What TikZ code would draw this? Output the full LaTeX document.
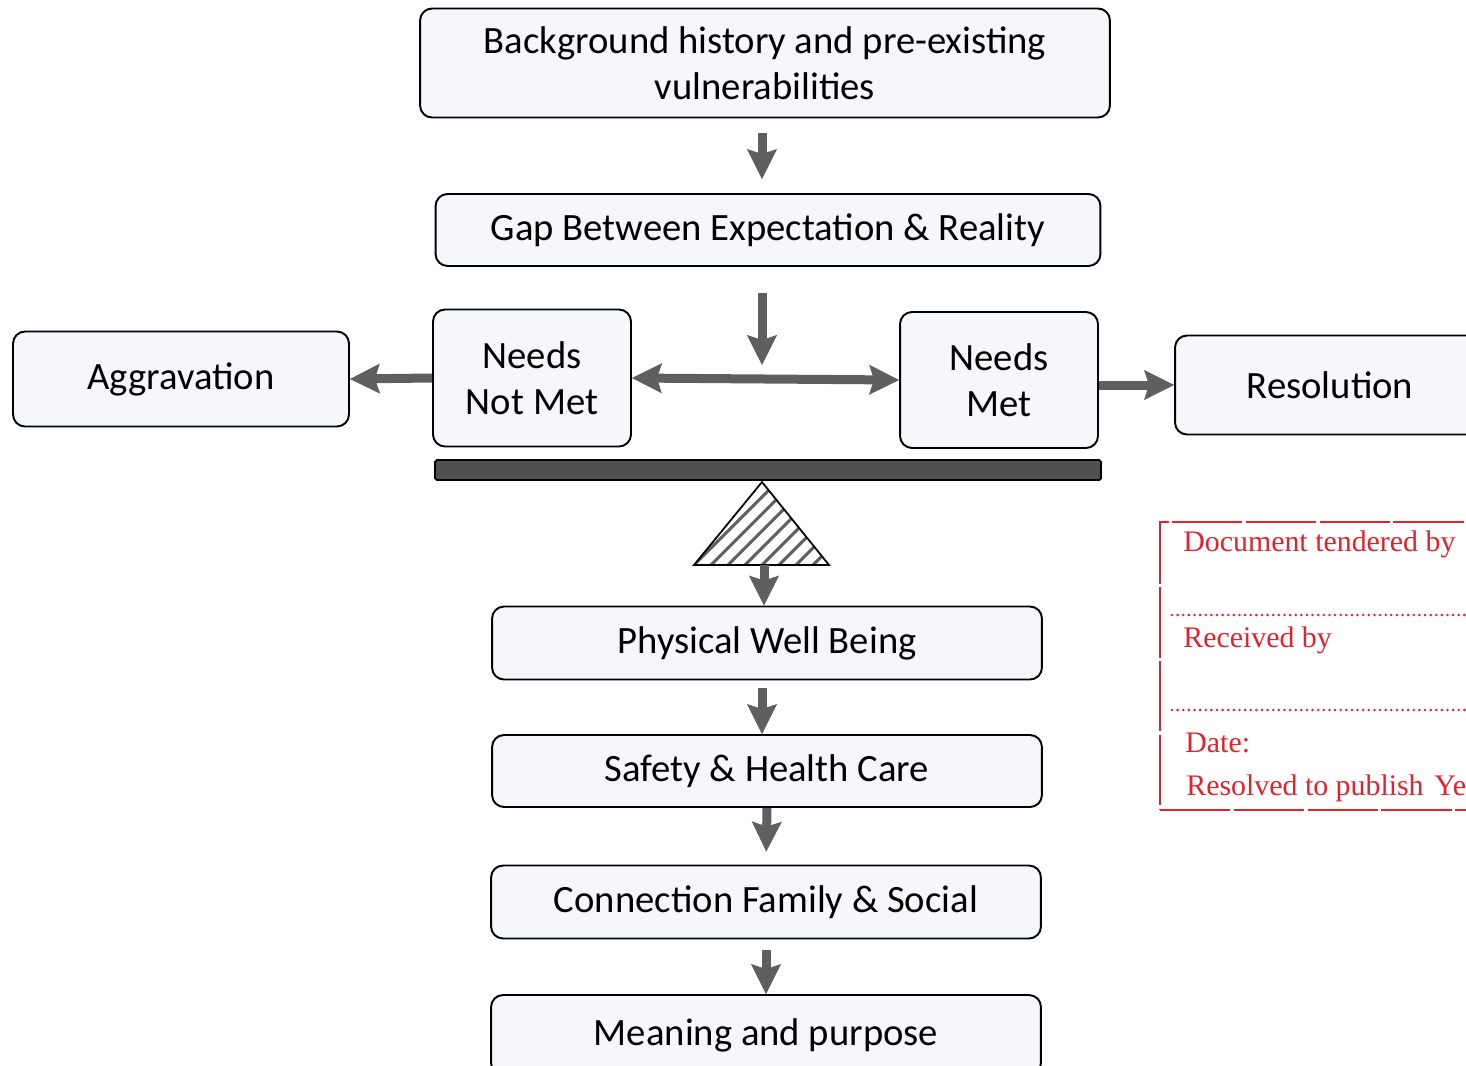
\documentclass[tikz,border=0pt]{standalone}
\usepackage{fontspec}
\setmainfont{Carlito}
\newfontfamily\stampfont{Liberation Serif}
\usetikzlibrary{arrows.meta}
\definecolor{boxfill}{RGB}{246,247,251}
\definecolor{arrowgray}{RGB}{95,95,95}
\definecolor{beamgray}{RGB}{80,80,80}
\definecolor{stampred}{RGB}{225,35,45}

\begin{document}
\begin{tikzpicture}[x=0.02cm,y=-0.02cm,
	flowtip/.tip={Stealth[length=0.6cm,width=0.6cm,inset=0.1cm,line width=0.4pt]},
	box/.style={draw,line width=1.1pt,rounded corners=0.24cm,fill=boxfill,
		align=center,inner sep=0pt,font=\fontsize{22}{26}\selectfont},
	flow/.style={draw=arrowgray,line width=0.18cm,-flowtip},
	stamptext/.style={anchor=base west,inner sep=0pt,text=stampred,
		font=\stampfont\fontsize{17}{20}\selectfont}]
	\useasboundingbox (0,0) rectangle (1466,1065);
	\fill[white] (0,0) rectangle (1466,1065);

	% top of the chain
	\node[box,minimum width=13.8cm,minimum height=2.18cm] (bg) at (765,63)
		{Background history and pre-existing\\vulnerabilities};
	\node[box,minimum width=13.3cm,minimum height=1.44cm] (gap) at (768,230)
		{Gap Between Expectation \& Reality};
	\coordinate (split) at (762,379);

	% the balance
	\node[box,minimum width=3.96cm,minimum height=2.74cm] (notmet) at (532,378) {Needs\\Not Met};
	\node[box,minimum width=3.96cm,minimum height=2.72cm] (met) at (999,380) {Needs\\Met};
	\node[box,minimum width=6.72cm,minimum height=1.9cm] (aggr) at (181,379) {Aggravation};
	\node[box,minimum width=6.2cm,minimum height=1.98cm] (resol) at (1330,385) {Resolution};
	\draw[fill=beamgray,line width=1pt,rounded corners=1pt] (435,460) rectangle (1101,480);
	\begin{scope}
		\clip (762,482) -- (829,565) -- (694,565) -- cycle;
		\foreach \i in {560,577,...,850}
			\draw[arrowgray,line width=0.06cm] (\i,580) -- ++(140,-140);
	\end{scope}
	\draw[line width=1pt] (762,482) -- (829,565) -- (694,565) -- cycle;
	\coordinate (pivot) at (764,565);

	% bottom of the chain
	\node[box,minimum width=11cm,minimum height=1.46cm] (phys) at (767,643) {Physical Well Being};
	\node[box,minimum width=11cm,minimum height=1.44cm] (safety) at (767,771) {Safety \& Health Care};
	\node[box,minimum width=11cm,minimum height=1.46cm] (family) at (766,902) {Connection Family \& Social};
	\node[box,minimum width=11cm,minimum height=1.6cm] (meaning) at (766,1035) {Meaning and purpose};

	% connectors
	\draw[flow,shorten <=0.3cm,shorten >=0.28cm] (bg.south -| split) -- (gap.north -| split);
	\draw[flow,shorten <=0.52cm,shorten >=0.28cm] (gap.south -| split) -- (split);
	\draw[flow,flowtip-flowtip] (notmet.east) -- (met.west);
	\draw[flow] (notmet.west) -- (aggr.east);
	\draw[flow] (met.east |- resol.west) -- (resol.west);
	\draw[flow] (pivot) -- (phys.north -| pivot);
	\draw[flow,shorten <=0.16cm] (phys.south -| split) -- (safety.north -| split);
	\draw[flow,shorten >=0.26cm] (safety.south) -- (family.north);
	\draw[flow,shorten <=0.22cm] (family.south) -- (meaning.north);

	% received stamp
	\node[draw=stampred,dash pattern=on 40pt off 2pt,line width=0.9pt,minimum width=6.8cm,
		minimum height=5.76cm,inner sep=0pt] (stamp) at (1330,666) {};
	\draw[stampred,line width=1.6pt,line cap=round,dash pattern=on 0pt off 3.2pt] (1172,615) -- (1466,615);
	\draw[stampred,line width=1.6pt,line cap=round,dash pattern=on 0pt off 3.2pt] (1172,710) -- (1466,710);
	\node[stamptext] (tendered) at (1183,551) {Document tendered by};
	\node[stamptext] (received) at (1183,647) {Received by};
	\node[stamptext] (date) at (1185,752) {Date:};
	\node[stamptext] (publish) at (1186,795) {Resolved to publish};
	\node[stamptext] (yes) at (1434,795) {Ye};
\end{tikzpicture}
\end{document}
